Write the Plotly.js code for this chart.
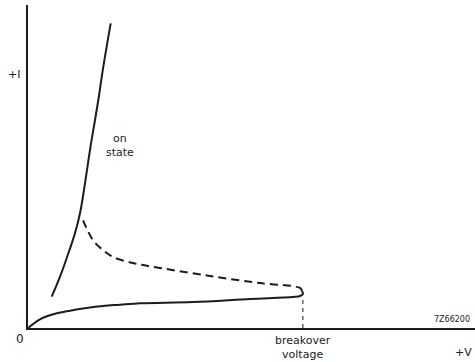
<!DOCTYPE html>
<html>
<head>
<meta charset="utf-8">
<script src="https://cdn.plot.ly/plotly-3.0.1.min.js"></script>
<style>html,body{margin:0;padding:0;background:#fff;}#chart{width:475px;height:362px;}</style>
</head>
<body>
<div id="chart"></div>
<script>
// Thyristor forward characteristic (arbitrary units, V and I scaled 0..100)
const onStateV = [5.30, 7.16, 9.02, 10.51, 11.63, 12.75, 13.87, 14.99, 15.73, 16.85, 18.50];
const onStateI = [9.69, 15.88, 23.13, 29.32, 35.51, 44.80, 55.11, 64.40, 70.59, 80.90, 94.33];

const offStateV = [0, 2.68, 5.66, 9.4, 13.1, 16.8, 20.6, 25.1, 36.9, 49.7, 59.3, 60.85, 61.5, 61.3];
const offStateI = [0, 2.69, 4.24, 5.36, 6.19, 6.81, 7.2, 7.65, 8.05, 8.98, 9.6, 9.9, 10.5, 11.5];

const negResV = [61.3, 60.85, 51.9, 40.7, 29.5, 23.5, 19.0, 16.78, 14.54, 12.3];
const negResI = [11.5, 12.4, 13.9, 16.1, 18.6, 20.1, 22.0, 24.1, 27.2, 33.4];

const breakoverV = [61.5, 61.5];
const breakoverI = [0, 9.6];

const ink = '#1c1c1c';
const traces = [
  {x: onStateV, y: onStateI, mode: 'lines', line: {color: ink, width: 2, shape: 'spline', smoothing: 1.2}, hoverinfo: 'skip', cliponaxis: false},
  {x: offStateV, y: offStateI, mode: 'lines', line: {color: ink, width: 2, shape: 'spline'}, hoverinfo: 'skip', cliponaxis: false},
  {x: negResV, y: negResI, mode: 'lines', line: {color: ink, width: 2, shape: 'spline', dash: '8px,5px'}, hoverinfo: 'skip', cliponaxis: false},
  {x: breakoverV, y: breakoverI, mode: 'lines', line: {color: ink, width: 1, dash: '4px,4px'}, hoverinfo: 'skip', cliponaxis: false}
];

const font = {family: 'DejaVu Sans, sans-serif', size: 11, color: '#222'};
const layout = {
  width: 475, height: 362,
  margin: {l: 28, r: 0, t: 5, b: 34},
  paper_bgcolor: '#fff', plot_bgcolor: '#fff',
  showlegend: false,
  xaxis: {range: [0, 100], showline: true, linewidth: 2, linecolor: ink, showgrid: false, zeroline: false, showticklabels: false, ticks: '', fixedrange: true},
  yaxis: {range: [0, 100], showline: true, linewidth: 2, linecolor: ink, showgrid: false, zeroline: false, showticklabels: false, ticks: '', fixedrange: true},
  annotations: [
    {xref: 'paper', yref: 'paper', x: 0, y: 0, xanchor: 'right', yanchor: 'top', xshift: -2, yshift: -2, text: '0', showarrow: false, font: {...font, size: 12}},
    {xref: 'paper', yref: 'paper', x: 0, y: 0.785, xanchor: 'right', yanchor: 'middle', xshift: -6, text: '+I', showarrow: false, font: font},
    {xref: 'paper', yref: 'paper', x: 1, y: 0, xanchor: 'right', yanchor: 'top', xshift: -1, yshift: -16, text: '+V', showarrow: false, font: font},
    {xref: 'x', yref: 'paper', x: 61.5, y: 0, xanchor: 'center', yanchor: 'top', yshift: -4, text: 'breakover<br>voltage', showarrow: false, font: font},
    {xref: 'x', yref: 'y', x: 20.6, y: 56.5, xanchor: 'center', yanchor: 'middle', text: 'on<br>state', showarrow: false, font: font},
    {xref: 'paper', yref: 'paper', x: 1, y: 0, xanchor: 'right', yanchor: 'bottom', xshift: -3, yshift: 2, text: '7Z66200', showarrow: false, font: {...font, size: 8}}
  ]
};

Plotly.newPlot('chart', traces, layout, {displayModeBar: false, staticPlot: true});
</script>
</body>
</html>
